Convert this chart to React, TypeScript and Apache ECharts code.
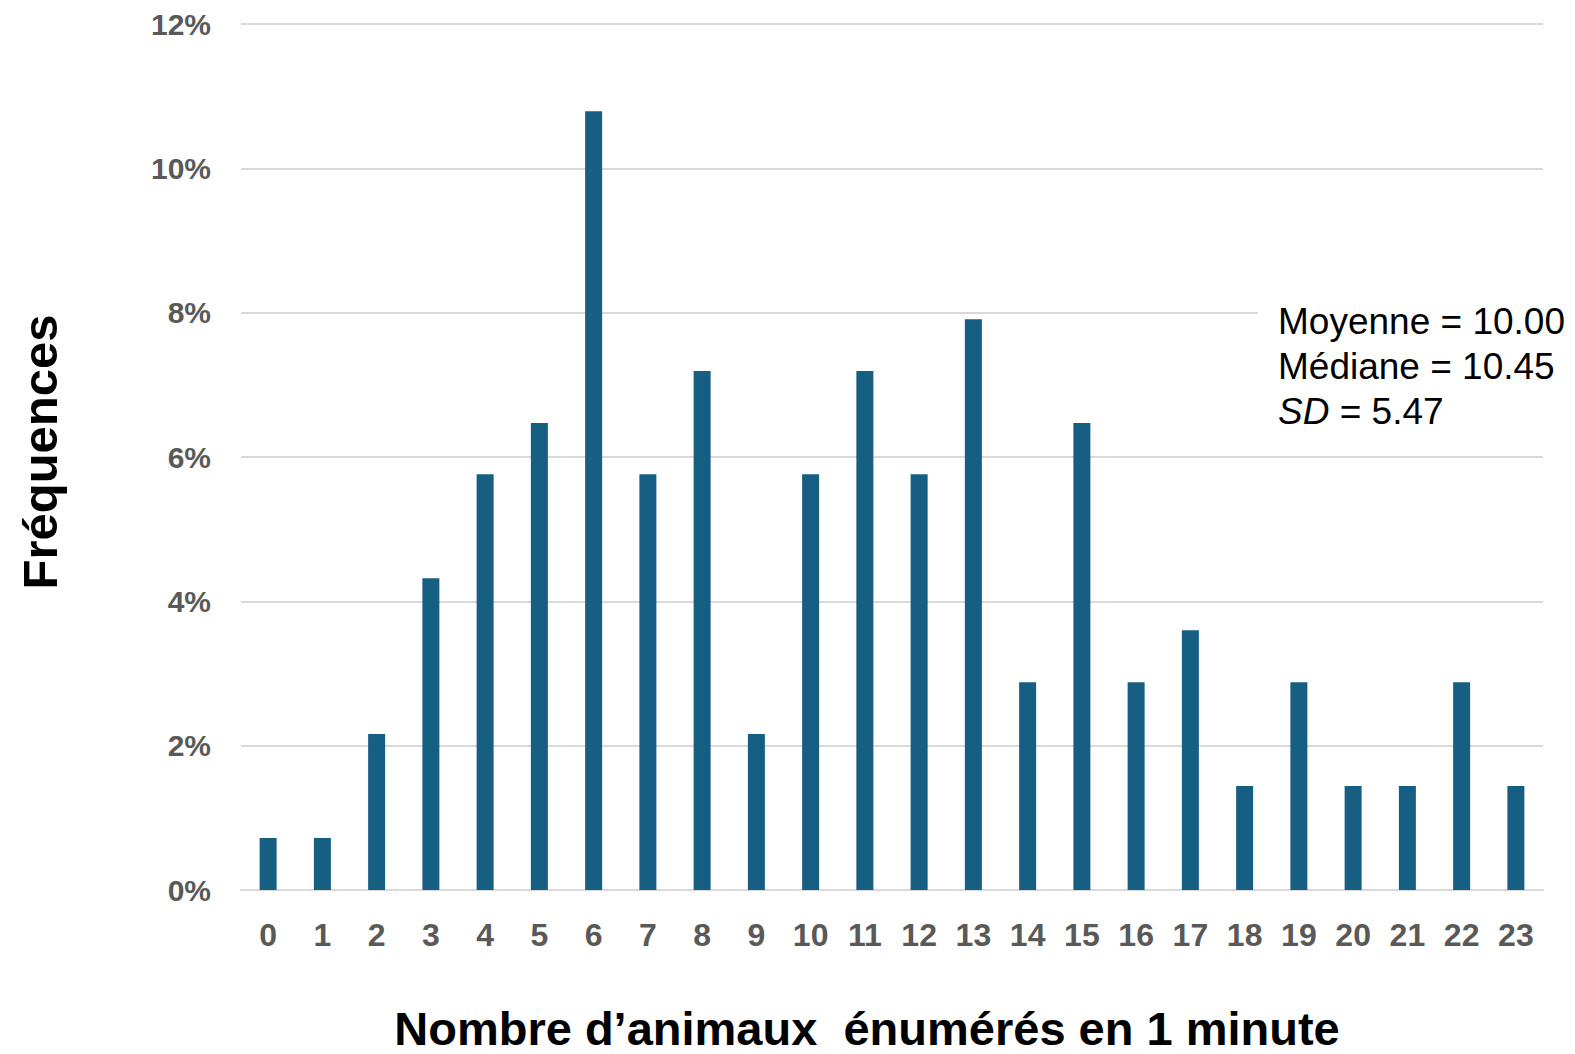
import React, { useEffect, useRef } from "react";
import * as echarts from "echarts";

const categories = ["0","1","2","3","4","5","6","7","8","9","10","11","12","13","14","15","16","17","18","19","20","21","22","23"];
const frequencies = [0.72, 0.72, 2.16, 4.32, 5.76, 6.47, 10.79, 5.76, 7.19, 2.16, 5.76, 7.19, 5.76, 7.91, 2.88, 6.47, 2.88, 3.6, 1.44, 2.88, 1.44, 1.44, 2.88, 1.44];
const yTitle = "Fréquences";
const xTitle = "Nombre d’animaux  énumérés en 1 minute";
const statLines = ["Moyenne = 10.00", "Médiane = 10.45"];
const sdLabel = "SD";
const sdValue = " = 5.47";

const SANS = "'Liberation Sans', Arial, sans-serif";

export default function App() {
  const ref = useRef<HTMLDivElement>(null);
  useEffect(() => {
    if (!ref.current) return;
    const chart = echarts.init(ref.current, null, { renderer: "svg" });
    chart.setOption({
      animation: false,
      backgroundColor: "#ffffff",
      grid: { left: 241, right: 32, top: 24, bottom: 164, containLabel: false },
      xAxis: {
        type: "category",
        data: categories,
        axisLine: { show: true, lineStyle: { color: "#d9d9d9", width: 2 } },
        axisTick: { show: false },
        axisLabel: { color: "#595959", fontFamily: SANS, fontWeight: "bold", fontSize: 32, margin: 29 },
      },
      yAxis: {
        type: "value",
        min: 0,
        max: 12,
        interval: 2,
        axisLine: { show: false },
        axisTick: { show: false },
        splitLine: { lineStyle: { color: "#d9d9d9", width: 2 } },
        axisLabel: { color: "#595959", fontFamily: SANS, fontWeight: "bold", fontSize: 30, margin: 30, formatter: "{value}%" },
      },
      series: [
        {
          type: "bar",
          data: frequencies,
          barWidth: 17,
          itemStyle: { color: "#165E82" },
        },
      ],
      graphic: [
        { type: "rect", shape: { x: 1258, y: 296, width: 320, height: 140 }, style: { fill: "#ffffff" }, z: 100 },
        {
          type: "text",
          x: 1278,
          y: 299,
          z: 101,
          style: {
            text: `{n|${statLines[0]}}\n{n|${statLines[1]}}\n{i|${sdLabel}}{n|${sdValue}}`,
            rich: {
              n: { fontFamily: SANS, fontSize: 37, lineHeight: 45, fill: "#000000" },
              i: { fontFamily: SANS, fontSize: 37, lineHeight: 45, fontStyle: "italic", fill: "#000000" },
            },
          },
        },
        {
          type: "text",
          x: 40,
          y: 452,
          rotation: Math.PI / 2,
          z: 101,
          style: {
            text: yTitle,
            fontFamily: SANS,
            fontWeight: "bold",
            fontSize: 49,
            fill: "#000000",
            align: "center",
            verticalAlign: "middle",
          },
        },
        {
          type: "text",
          x: 867,
          y: 1028,
          z: 101,
          style: {
            text: xTitle,
            fontFamily: SANS,
            fontWeight: "bold",
            fontSize: 47,
            fill: "#000000",
            align: "center",
            verticalAlign: "middle",
          },
        },
      ],
    });
    return () => chart.dispose();
  }, []);
  return <div ref={ref} style={{ width: 1575, height: 1054, position: "absolute", left: 0, top: 0 }} />;
}
